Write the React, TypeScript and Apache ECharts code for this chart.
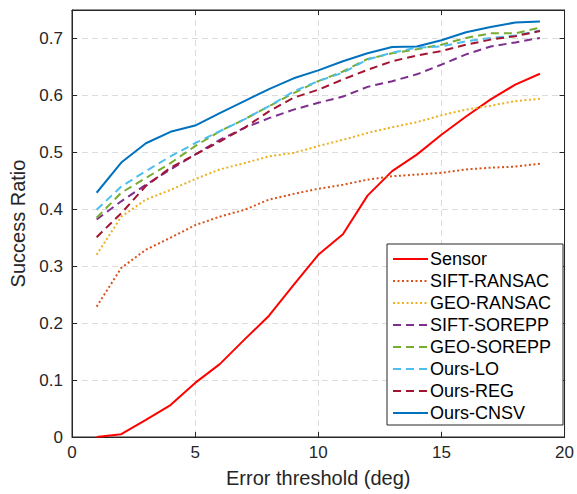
import React, { useEffect, useRef } from "react";
import * as echarts from "echarts";

const thresholds = [1, 2, 3, 4, 5, 6, 7, 8, 9, 10, 11, 12, 13, 14, 15, 16, 17, 18, 19];
const sensor = [0, 0.005, 0.03, 0.056, 0.095, 0.128, 0.171, 0.213, 0.267, 0.32, 0.356, 0.424, 0.467, 0.496, 0.531, 0.563, 0.593, 0.619, 0.638];
const siftRansac = [0.229, 0.297, 0.329, 0.35, 0.372, 0.387, 0.399, 0.417, 0.427, 0.436, 0.443, 0.452, 0.458, 0.461, 0.464, 0.47, 0.473, 0.475, 0.48];
const geoRansac = [0.32, 0.387, 0.417, 0.434, 0.453, 0.47, 0.481, 0.493, 0.499, 0.511, 0.522, 0.534, 0.544, 0.553, 0.565, 0.575, 0.582, 0.59, 0.594];
const siftSorepp = [0.382, 0.414, 0.443, 0.47, 0.496, 0.522, 0.543, 0.56, 0.575, 0.587, 0.598, 0.615, 0.625, 0.637, 0.654, 0.672, 0.686, 0.693, 0.701];
const geoSorepp = [0.385, 0.429, 0.455, 0.481, 0.511, 0.537, 0.558, 0.581, 0.604, 0.625, 0.642, 0.664, 0.674, 0.681, 0.689, 0.701, 0.709, 0.709, 0.719];
const oursLO = [0.399, 0.44, 0.467, 0.493, 0.516, 0.537, 0.558, 0.581, 0.607, 0.625, 0.64, 0.663, 0.675, 0.684, 0.686, 0.695, 0.701, 0.705, 0.714];
const oursREG = [0.351, 0.393, 0.441, 0.473, 0.496, 0.519, 0.543, 0.572, 0.596, 0.61, 0.628, 0.645, 0.66, 0.67, 0.678, 0.689, 0.698, 0.704, 0.713];
const oursCNSV = [0.429, 0.482, 0.516, 0.536, 0.547, 0.569, 0.59, 0.611, 0.63, 0.644, 0.66, 0.674, 0.685, 0.686, 0.697, 0.711, 0.72, 0.728, 0.73];

const seriesDefs = [
  { name: "Sensor", data: sensor, color: "#FF0000", type: "solid" },
  { name: "SIFT-RANSAC", data: siftRansac, color: "#D95319", type: "dotted" },
  { name: "GEO-RANSAC", data: geoRansac, color: "#EDB120", type: "dotted" },
  { name: "SIFT-SOREPP", data: siftSorepp, color: "#7E2F8E", type: "dashed" },
  { name: "GEO-SOREPP", data: geoSorepp, color: "#77AC30", type: "dashed" },
  { name: "Ours-LO", data: oursLO, color: "#4DBEEE", type: "dashed" },
  { name: "Ours-REG", data: oursREG, color: "#A2142F", type: "dashed" },
  { name: "Ours-CNSV", data: oursCNSV, color: "#0072BD", type: "solid" },
];

const FONT = "'Liberation Sans', Arial, sans-serif";
const AXIS = "#262626";

export default function App() {
  const ref = useRef<HTMLDivElement>(null);
  useEffect(() => {
    if (!ref.current) return;
    const chart = echarts.init(ref.current, undefined, { renderer: "svg" });
    const dashFor = (t: string) => (t === "dotted" ? [2, 2.5] : t === "dashed" ? [8, 5] : "solid");
    const gridLine = { show: true, lineStyle: { color: "#dcdcdc", type: [6, 4], width: 1 } };
    chart.setOption({
      animation: false,
      textStyle: { fontFamily: FONT },
      grid: { left: 72, right: 10, top: 10, bottom: 57, show: true, borderColor: AXIS, borderWidth: 1 },
      legend: {
        orient: "vertical",
        left: 387,
        top: 244,
        padding: [6, 12, 3, 5],
        itemGap: 4,
        itemWidth: 35,
        itemHeight: 18,
        backgroundColor: "#ffffff",
        borderColor: AXIS,
        borderWidth: 1,
        itemStyle: { opacity: 0, borderWidth: 0 },
        textStyle: { fontFamily: FONT, fontSize: 18, color: "#000", padding: [0, 0, 0, -3] },
        data: seriesDefs.map((s) => s.name),
      },
      xAxis: [
        {
          type: "value",
          min: 0,
          max: 20,
          interval: 5,
          name: "Error threshold (deg)",
          nameLocation: "middle",
          nameGap: 31,
          nameTextStyle: { fontSize: 20, color: AXIS, fontFamily: FONT },
          axisLine: { show: true, onZero: false, lineStyle: { color: AXIS } },
          axisTick: { show: true, inside: true, length: 5, lineStyle: { color: AXIS } },
          axisLabel: { fontSize: 17, color: AXIS, margin: 7, fontFamily: FONT },
          splitLine: gridLine,
        },
        {
          type: "value",
          position: "top",
          min: 0,
          max: 20,
          interval: 5,
          axisLine: { show: true, onZero: false, lineStyle: { color: AXIS } },
          axisTick: { show: true, inside: true, length: 5, lineStyle: { color: AXIS } },
          axisLabel: { show: false },
          splitLine: { show: false },
        },
      ],
      yAxis: [
        {
          type: "value",
          min: 0,
          max: 0.75,
          interval: 0.1,
          name: "Success Ratio",
          nameLocation: "middle",
          nameGap: 42,
          nameTextStyle: { fontSize: 20, color: AXIS, fontFamily: FONT },
          axisLine: { show: true, onZero: false, lineStyle: { color: AXIS } },
          axisTick: { show: true, inside: true, length: 5, lineStyle: { color: AXIS } },
          axisLabel: {
            fontSize: 17,
            color: AXIS,
            margin: 9,
            fontFamily: FONT,
            showMaxLabel: false,
            formatter: (v: number) => (Math.abs(v * 10 - Math.round(v * 10)) < 1e-6 ? String(Math.round(v * 10) / 10) : ""),
          },
          splitLine: gridLine,
        },
        {
          type: "value",
          position: "right",
          min: 0,
          max: 0.75,
          interval: 0.1,
          axisLine: { show: true, onZero: false, lineStyle: { color: AXIS } },
          axisTick: { show: true, inside: true, length: 5, lineStyle: { color: AXIS } },
          axisLabel: { show: false },
          splitLine: { show: false },
        },
      ],
      series: seriesDefs.map((s) => ({
        name: s.name,
        type: "line",
        symbol: "none",
        xAxisIndex: 0,
        yAxisIndex: 0,
        data: thresholds.map((t, i) => [t, s.data[i]]),
        lineStyle: { color: s.color, width: 2, type: dashFor(s.type) },
        itemStyle: { color: s.color },
      })),
    });
    return () => chart.dispose();
  }, []);
  return <div ref={ref} style={{ width: 577, height: 494, position: "absolute", left: 0, top: 0 }} />;
}
